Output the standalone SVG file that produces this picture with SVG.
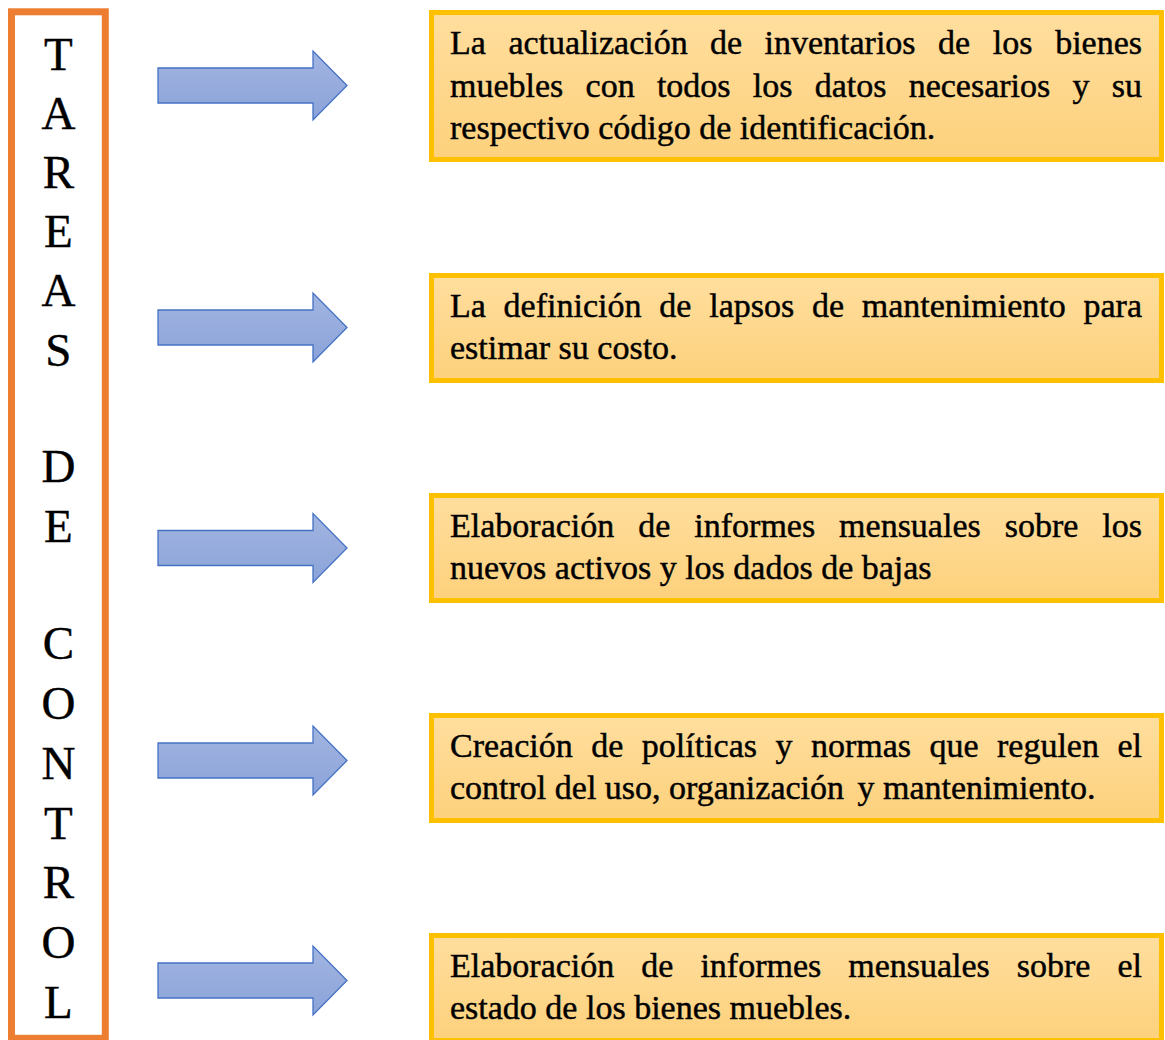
<svg xmlns="http://www.w3.org/2000/svg" width="1165" height="1040" viewBox="0 0 1165 1040">
<style>
.tit{font-family:"Liberation Serif","Times New Roman",serif;font-size:47px;fill:#000;stroke:#000;stroke-width:0.4;text-anchor:middle}
.bx{fill:url(#gBox);stroke:#FFC000;stroke-width:5}
.tx{font-family:"Liberation Serif","Times New Roman",serif;font-size:34px;fill:#000;stroke:#000;stroke-width:0.45}
.e{text-anchor:end}
.arr{fill:url(#gArr);stroke:#4472C4;stroke-width:1.3}
</style>
<defs>
<linearGradient id="gBox" x1="0" y1="0" x2="0" y2="1">
<stop offset="0" stop-color="#FFDE9E"/>
<stop offset="1" stop-color="#FDD17C"/>
</linearGradient>
<linearGradient id="gArr" x1="0" y1="0" x2="0" y2="1">
<stop offset="0" stop-color="#A2B5E1"/>
<stop offset="1" stop-color="#8BA3D9"/>
</linearGradient>
<path id="arrow" d="M158,-17.5 H313 V-34.5 L347,0 L313,34.5 V17.5 H158 Z"/>
</defs>
<rect width="1165" height="1040" fill="#fff"/>

<g id="title">
<rect x="11.5" y="11.8" width="93.8" height="1026.5" fill="#fff" stroke="#ED7D31" stroke-width="7"/>
<text class="tit" x="58.4" y="70">T</text>
<text class="tit" x="58.4" y="129">A</text>
<text class="tit" x="58.4" y="188">R</text>
<text class="tit" x="58.4" y="247">E</text>
<text class="tit" x="58.4" y="306">A</text>
<text class="tit" x="58.4" y="366">S</text>
<text class="tit" x="58.4" y="482">D</text>
<text class="tit" x="58.4" y="542">E</text>
<text class="tit" x="58.4" y="659">C</text>
<text class="tit" x="58.4" y="719">O</text>
<text class="tit" x="58.4" y="779">N</text>
<text class="tit" x="58.4" y="839">T</text>
<text class="tit" x="58.4" y="898">R</text>
<text class="tit" x="58.4" y="958">O</text>
<text class="tit" x="58.4" y="1018">L</text>
</g>

<g id="connectors">
<use href="#arrow" class="arr" transform="translate(0,85.5)"/>
<use href="#arrow" class="arr" transform="translate(0,327.5)"/>
<use href="#arrow" class="arr" transform="translate(0,548)"/>
<use href="#arrow" class="arr" transform="translate(0,760.5)"/>
<use href="#arrow" class="arr" transform="translate(0,980.5)"/>
</g>

<g id="box1">
<rect class="bx" x="431.5" y="12.5" width="730" height="147"/>
<text class="tx" y="54"><tspan x="450">La</tspan> <tspan x="508.4">actualización</tspan> <tspan x="709.9">de</tspan> <tspan x="764.5">inventarios</tspan> <tspan x="938.1">de</tspan> <tspan x="992.7">los</tspan> <tspan class="e" x="1142">bienes</tspan></text>
<text class="tx" y="97"><tspan x="450">muebles</tspan> <tspan x="585.6">con</tspan> <tspan x="656.9">todos</tspan> <tspan x="752.8">los</tspan> <tspan x="814.7">datos</tspan> <tspan x="908.7">necesarios</tspan> <tspan x="1072.5">y</tspan> <tspan class="e" x="1142">su</tspan></text>
<text class="tx" x="450" y="139">respectivo código de identificación.</text>
</g>

<g id="box2">
<rect class="bx" x="431.5" y="275.5" width="730" height="105"/>
<text class="tx" y="317"><tspan x="450">La</tspan> <tspan x="503.6">definición</tspan> <tspan x="659.3">de</tspan> <tspan x="709.2">lapsos</tspan> <tspan x="811.9">de</tspan> <tspan x="861.8">mantenimiento</tspan> <tspan class="e" x="1142">para</tspan></text>
<text class="tx" x="450" y="359">estimar su costo.</text>
</g>

<g id="box3">
<rect class="bx" x="431.5" y="495.5" width="730" height="105"/>
<text class="tx" y="537"><tspan x="450">Elaboración</tspan> <tspan x="638.3">de</tspan> <tspan x="694.3">informes</tspan> <tspan x="839.1">mensuales</tspan> <tspan x="1004.7">sobre</tspan> <tspan class="e" x="1142">los</tspan></text>
<text class="tx" x="450" y="579">nuevos activos y los dados de bajas</text>
</g>

<g id="box4">
<rect class="bx" x="431.5" y="715.5" width="730" height="105"/>
<text class="tx" y="757"><tspan x="450">Creación</tspan> <tspan x="591.2">de</tspan> <tspan x="641.8">políticas</tspan> <tspan x="775.5">y</tspan> <tspan x="810.9">normas</tspan> <tspan x="929.5">que</tspan> <tspan x="997">regulen</tspan> <tspan class="e" x="1142">el</tspan></text>
<text class="tx" x="450" y="799">control del uso, organización <tspan dx="5">y mantenimiento.</tspan></text>
</g>

<g id="box5">
<rect class="bx" x="431.5" y="935.5" width="730" height="105"/>
<text class="tx" y="977"><tspan x="450">Elaboración</tspan> <tspan x="641.3">de</tspan> <tspan x="700.4">informes</tspan> <tspan x="848.2">mensuales</tspan> <tspan x="1016.8">sobre</tspan> <tspan class="e" x="1142">el</tspan></text>
<text class="tx" x="450" y="1019">estado de los bienes muebles.</text>
</g>
</svg>
